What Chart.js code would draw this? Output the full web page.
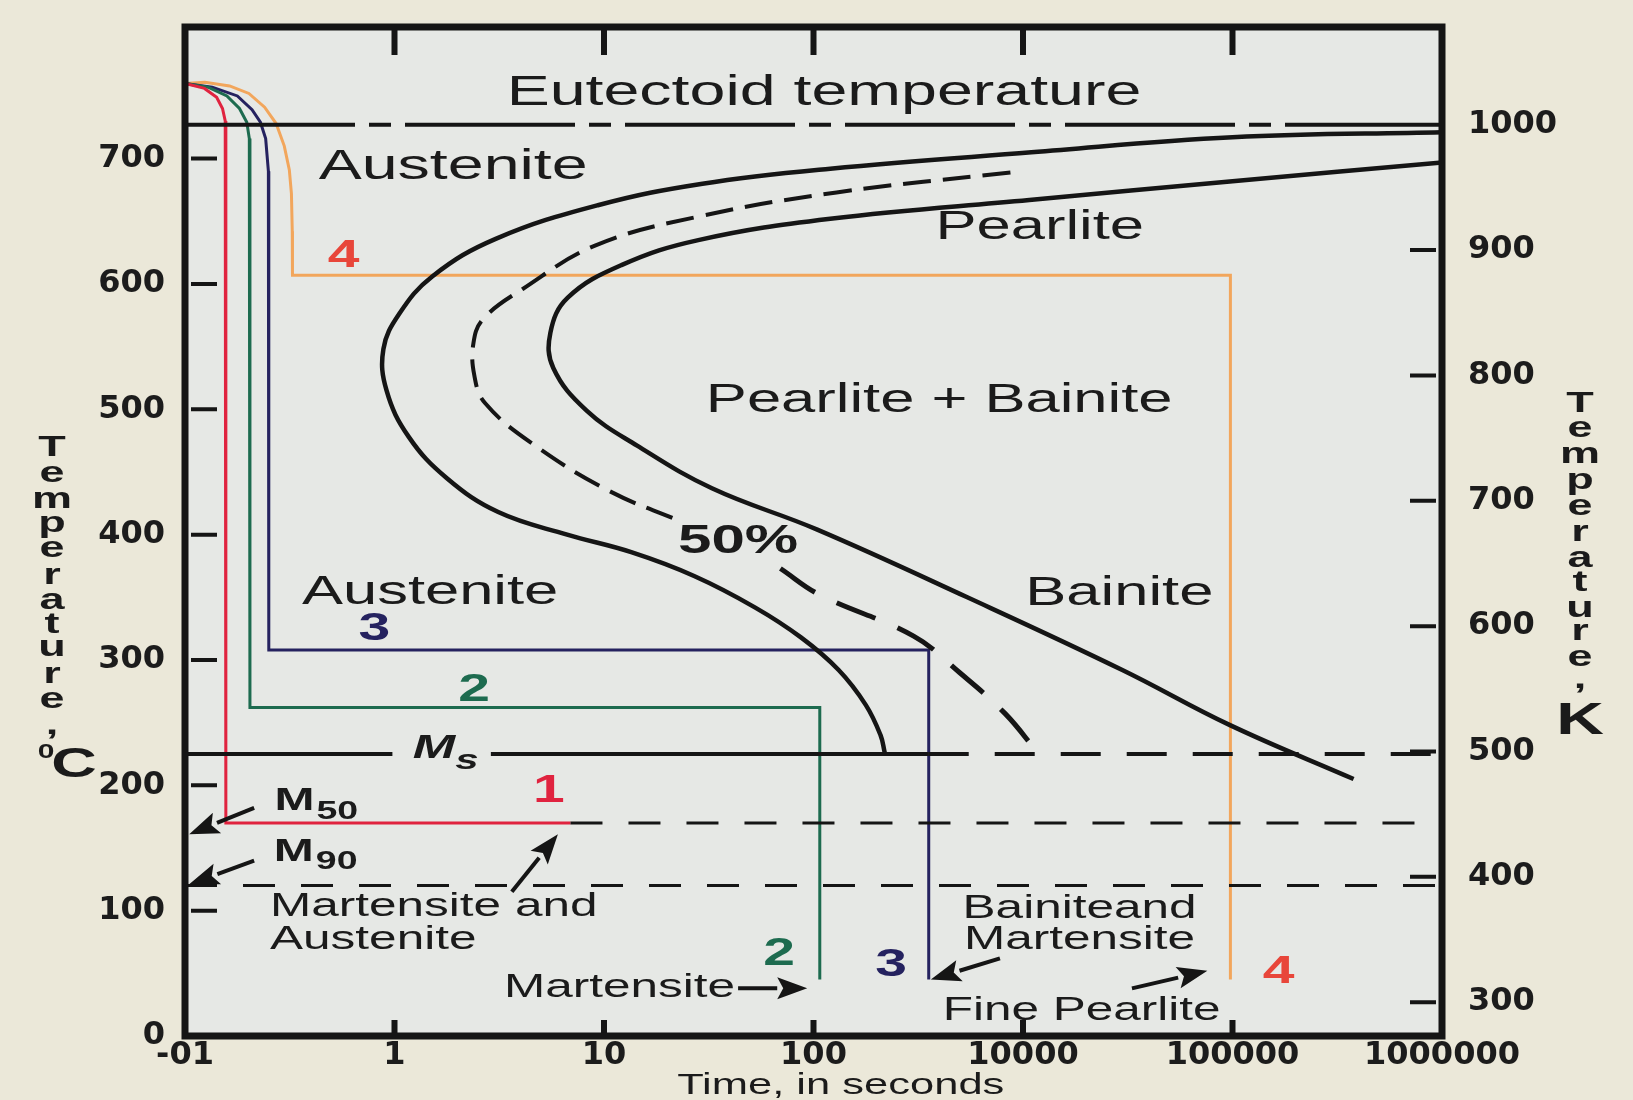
<!DOCTYPE html>
<html>
<head>
<meta charset="utf-8">
<script src="https://cdn.jsdelivr.net/npm/chart.js@4.4.0/dist/chart.umd.min.js"></script>
<style>
  html, body { margin: 0; padding: 0; background: #ebe8d9; }
  #wrap { width: 1633px; height: 1100px; }
</style>
</head>
<body>
<div id="wrap"><canvas id="ttt"></canvas></div>
<script>
// time axis is printed one decade-ish step per label
const timeLabels = ['-01', '1', '10', '100', '10000', '100000', '1000000'];
const celsiusTicks = [0, 100, 200, 300, 400, 500, 600, 700];
const kelvinTicks = [300, 400, 500, 600, 700, 800, 900, 1000];

// horizontal guides [time index, °C]
const eutectoid = [[0, 727], [6, 727]];
const msLeft = [[0, 225], [0.99, 225]];
const msMid = [[1.46, 225], [3.55, 225]];
const msRight = [[3.55, 225], [6, 225]];
const m50Dash = [[1.84, 170], [6, 170]];
const m90Dash = [[0, 120], [6, 120]];

// transformation start / 50% / finish curves
const startCurve = [[6, 721], [5.0, 717], [4.04, 705], [3.08, 692], [2.47, 680], [1.975, 663], [1.483, 636],
  [1.18, 606], [1.022, 576], [0.947, 548], [0.962, 515], [1.068, 478], [1.25, 445], [1.495, 418],
  [1.824, 400], [2.13, 386], [2.43, 367], [2.72, 342], [2.94, 318], [3.12, 292], [3.25, 264], [3.32, 240], [3.34, 226]];
const halfUpper = [[3.94, 689], [3.11, 673], [2.458, 654], [1.963, 631], [1.612, 596], [1.423, 572],
  [1.377, 553], [1.381, 527], [1.432, 505], [1.663, 472], [2.023, 435], [2.36, 411]];
const halfLower = [[2.842, 373], [3.03, 352], [3.478, 319], [3.697, 290], [3.916, 257], [4.07, 226]];
const finishCurve = [[6, 697], [5.0, 682], [4.03, 667], [3.08, 652], [2.45, 635], [2.083, 615], [1.827, 589],
  [1.744, 561], [1.758, 533], [1.917, 499], [2.158, 471], [2.515, 437], [3.018, 404], [3.734, 350],
  [4.474, 292], [4.988, 248], [5.578, 205]];

// cooling paths 1-4
const path1 = [[0, 760], [0.093, 756], [0.151, 749], [0.179, 740], [0.192, 730], [0.195, 715], [0.195, 170], [1.84, 170]];
const path2 = [[0, 760], [0.11, 757], [0.2, 750], [0.26, 740], [0.295, 729], [0.307, 716], [0.31, 690], [0.31, 262], [3.03, 262], [3.03, 45]];
const path3 = [[0, 760], [0.13, 757], [0.25, 750], [0.32, 739], [0.36, 729], [0.385, 716], [0.398, 690], [0.4, 660], [0.4, 308], [3.55, 308], [3.55, 45]];
const path4 = [[0, 760], [0.095, 761], [0.213, 758], [0.305, 752], [0.38, 741], [0.435, 728], [0.474, 710], [0.498, 691],
  [0.508, 672], [0.512, 642], [0.513, 607], [4.99, 607], [4.99, 45]];

const INK = '#151515';
const RED = '#e0233f', GREEN = '#1d6b4f', NAVY = '#25225f', ORANGE = '#f2a65c';

const pts = a => a.map(([x, y]) => ({ x, y }));
const ds = (data, color, width, dash, tension) => ({
  data: pts(data), borderColor: color, borderWidth: width, borderDash: dash || [],
  tension: tension || 0, pointRadius: 0, fill: false, yAxisID: 'y', borderCapStyle: 'butt'
});

const SX = 1.5;
function txt(ctx, s, x, y, size, opt) {
  opt = opt || {};
  ctx.save();
  ctx.font = (opt.style || '') + ' ' + (opt.weight || 'normal') + ' ' + size + 'px "Liberation Sans", Arial, sans-serif';
  ctx.fillStyle = opt.color || '#1b1b1b';
  ctx.textAlign = opt.align || 'center';
  ctx.textBaseline = 'middle';
  ctx.translate(x, y);
  ctx.scale(SX, 1);
  ctx.fillText(s, 0, 0);
  const w = ctx.measureText(s).width * SX;
  ctx.restore();
  return w;
}

function arrow(ctx, x1, y1, x2, y2) {
  const a = Math.atan2(y2 - y1, x2 - x1), hl = 30, hw = 11;
  const bx = x2 - hl * Math.cos(a), by = y2 - hl * Math.sin(a);
  ctx.beginPath();
  ctx.moveTo(x1, y1);
  ctx.lineTo(bx, by);
  ctx.stroke();
  ctx.beginPath();
  ctx.moveTo(x2, y2);
  ctx.lineTo(bx + hw * Math.sin(a), by - hw * Math.cos(a));
  ctx.lineTo(bx + 6 * Math.cos(a), by + 6 * Math.sin(a));
  ctx.lineTo(bx - hw * Math.sin(a), by + hw * Math.cos(a));
  ctx.closePath();
  ctx.fill();
}

const framePlugin = {
  id: 'frame',
  beforeDraw(chart) {
    const { ctx, chartArea: a } = chart;
    ctx.save();
    ctx.fillStyle = '#e6e8e5';
    ctx.fillRect(a.left, a.top, a.right - a.left, a.bottom - a.top);
    ctx.restore();
  },
  afterDatasetsDraw(chart) {
    const { ctx, chartArea: a, scales } = chart;
    ctx.save();
    ctx.strokeStyle = INK;
    ctx.lineWidth = 4;
    ctx.beginPath();
    celsiusTicks.forEach(v => {
      if (v === 0) return;
      const y = scales.y.getPixelForValue(v);
      ctx.moveTo(a.left + 6, y); ctx.lineTo(a.left + 32, y);
    });
    kelvinTicks.forEach(v => {
      if (v === 1000) return;
      const y = scales.y2.getPixelForValue(v);
      ctx.moveTo(a.right - 6, y); ctx.lineTo(a.right - 32, y);
    });
    ctx.stroke();
    ctx.lineWidth = 6;
    ctx.beginPath();
    [1, 2, 3, 4, 5].forEach(i => {
      const x = scales.x.getPixelForValue(i);
      ctx.moveTo(x, a.top); ctx.lineTo(x, a.top + 28);
      ctx.moveTo(x, a.bottom); ctx.lineTo(x, a.bottom - 16);
    });
    ctx.stroke();
    ctx.lineWidth = 7;
    ctx.strokeRect(a.left, a.top, a.right - a.left, a.bottom - a.top);
    ctx.restore();
  },
  afterDraw(chart) {
    const { ctx, scales } = chart;
    const X = v => scales.x.getPixelForValue(v);
    const Y = v => scales.y.getPixelForValue(v);

    txt(ctx, 'Eutectoid temperature', X(3.05), Y(752), 43);
    txt(ctx, 'Austenite', X(1.28), Y(693), 43);
    txt(ctx, 'Pearlite', X(4.08), Y(645), 41);
    txt(ctx, 'Pearlite + Bainite', X(3.6), Y(507), 41);
    txt(ctx, '50%', X(2.64), Y(394), 40, { weight: 'bold' });
    txt(ctx, 'Austenite', X(1.17), Y(354), 41);
    txt(ctx, 'Bainite', X(4.46), Y(353), 41);

    txt(ctx, '4', X(0.757), Y(622), 38, { weight: 'bold', color: '#e8463a' });
    txt(ctx, '3', X(0.904), Y(324), 38, { weight: 'bold', color: NAVY });
    txt(ctx, '2', X(1.38), Y(276), 38, { weight: 'bold', color: GREEN });
    txt(ctx, '1', X(1.737), Y(195), 38, { weight: 'bold', color: RED });
    txt(ctx, '2', X(2.836), Y(65), 38, { weight: 'bold', color: GREEN });
    txt(ctx, '3', X(3.37), Y(56), 38, { weight: 'bold', color: NAVY });
    txt(ctx, '4', X(5.22), Y(51), 38, { weight: 'bold', color: '#e8463a' });

    txt(ctx, 'Martensite and', X(0.406), Y(103), 33, { align: 'left' });
    txt(ctx, 'Austenite', X(0.406), Y(77), 33, { align: 'left' });
    txt(ctx, 'Martensite', X(2.626), Y(38), 33, { align: 'right' });
    txt(ctx, 'Bainiteand', X(4.27), Y(101), 33);
    txt(ctx, 'Martensite', X(4.27), Y(77), 33);
    txt(ctx, 'Fine Pearlite', X(4.28), Y(20), 33);

    let w = txt(ctx, 'M', X(0.427), Y(187), 32, { weight: 'bold', align: 'left' });
    txt(ctx, '50', X(0.427) + w + 2, Y(187) + 10, 25, { weight: 'bold', align: 'left' });
    w = txt(ctx, 'M', X(0.424), Y(147), 32, { weight: 'bold', align: 'left' });
    txt(ctx, '90', X(0.424) + w + 2, Y(147) + 10, 25, { weight: 'bold', align: 'left' });
    w = txt(ctx, 'M', X(1.087), Y(229), 34, { weight: 'bold', style: 'italic', align: 'left' });
    txt(ctx, 's', X(1.087) + w, Y(229) + 12, 28, { weight: 'bold', style: 'italic', align: 'left' });

    ctx.save();
    ctx.strokeStyle = INK; ctx.fillStyle = INK; ctx.lineWidth = 4;
    arrow(ctx, X(0.33), Y(182), X(0.02), Y(161));
    arrow(ctx, X(0.33), Y(140), X(0.02), Y(121));
    arrow(ctx, X(1.56), Y(115), X(1.78), Y(161));
    arrow(ctx, X(2.64), Y(38), X(2.97), Y(38));
    arrow(ctx, X(3.89), Y(62), X(3.56), Y(45));
    arrow(ctx, X(4.52), Y(38), X(4.88), Y(52));
    ctx.restore();

    // x axis title, stretched like the printed lettering
    txt(ctx, 'Time, in seconds', X(3.13), 1086, 29);

    // stacked axis titles
    const left = ['T', 'e', 'm', 'p', 'e', 'r', 'a', 't', 'u', 'r', 'e', ','];
    const leftY = [448, 474, 500, 524, 549, 576, 601, 625, 648, 675, 700, 726];
    left.forEach((c, i) => txt(ctx, c, 52, leftY[i], 30, { weight: 'bold' }));
    txt(ctx, '0', 46, 752, 20, { weight: 'bold' });
    txt(ctx, 'C', 74, 765, 42, { weight: 'bold' });
    const rightY = [404, 429, 455, 481, 507, 533, 559, 583, 609, 632, 658, 680];
    left.forEach((c, i) => txt(ctx, c, 1580, rightY[i], 30, { weight: 'bold' }));
    txt(ctx, 'K', 1580, 722, 44, { weight: 'bold' });
  }
};

const tickFont = { family: '"DejaVu Sans", sans-serif', size: 32, weight: 'bold' };

new Chart(document.getElementById('ttt'), {
  type: 'line',
  data: {
    datasets: [
      ds(eutectoid, INK, 4, [170, 14, 22, 14]),
      ds(msLeft, INK, 4),
      ds(msMid, INK, 4),
      ds(msRight, INK, 4, [40, 26]),
      ds(m50Dash, INK, 3, [32, 26]),
      ds(m90Dash, INK, 3, [32, 26]),
      ds(startCurve, INK, 4.5, [], 0.4),
      ds(halfUpper, INK, 4, [28, 12], 0.4),
      ds(halfLower, INK, 5, [42, 24], 0.4),
      ds(finishCurve, INK, 4.5, [], 0.4),
      ds(path1, RED, 3),
      ds(path2, GREEN, 3),
      ds(path3, NAVY, 3),
      ds(path4, ORANGE, 3)
    ]
  },
  options: {
    responsive: true,
    maintainAspectRatio: false,
    animation: false,
    layout: { padding: { top: 27, left: 0, right: 0, bottom: 0 } },
    plugins: { legend: { display: false }, tooltip: { enabled: false } },
    scales: {
      x: {
        type: 'linear', min: 0, max: 6, position: 'bottom',
        afterBuildTicks: s => { s.ticks = timeLabels.map((t, i) => ({ value: i })); },
        afterFit: s => { s.height = 64; s.paddingLeft = 0; s.paddingRight = 0; },
        ticks: { callback: v => timeLabels[v], font: tickFont, color: '#1c1c1c', padding: 0, maxRotation: 0, autoSkip: false },
        grid: { display: false, drawTicks: false },
        border: { display: false }
      },
      y: {
        type: 'linear', min: 0, max: 805, position: 'left',
        afterBuildTicks: s => { s.ticks = celsiusTicks.map(v => ({ value: v })); },
        afterFit: s => { s.width = 185; s.paddingTop = 0; s.paddingBottom = 0; },
        ticks: { callback: v => String(v), font: tickFont, color: '#1c1c1c', padding: 20 },
        grid: { display: false, drawTicks: false },
        border: { display: false }
      },
      y2: {
        type: 'linear', min: 273, max: 1078, position: 'right',
        afterBuildTicks: s => { s.ticks = kelvinTicks.map(v => ({ value: v })); },
        afterFit: s => { s.width = 191; s.paddingTop = 0; s.paddingBottom = 0; },
        ticks: { callback: v => String(v), font: tickFont, color: '#1c1c1c', padding: 26 },
        grid: { display: false, drawTicks: false },
        border: { display: false }
      }
    }
  },
  plugins: [framePlugin]
});
</script>
</body>
</html>
